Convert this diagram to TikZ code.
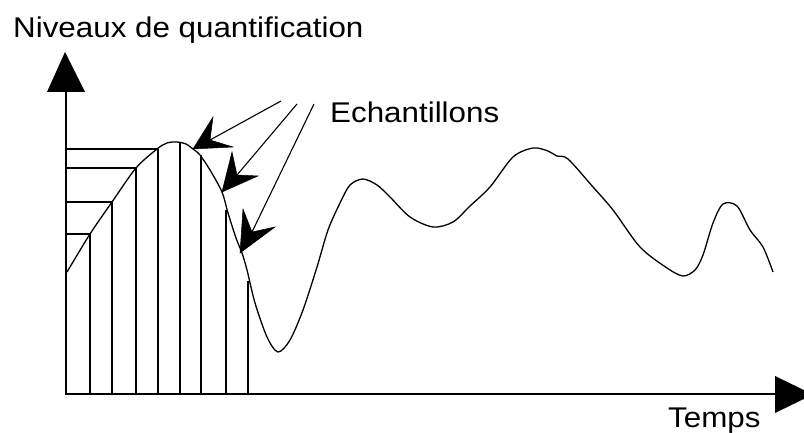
\documentclass[tikz,border=0pt]{standalone}
\usepackage{fontspec}
\newfontfamily\labfont{Liberation Sans}[FakeStretch=1.1]
\begin{document}
\begin{tikzpicture}[x=1pt,y=-1pt,
  axis/.style={line width=2pt,line cap=rect},
  qline/.style={line width=1.8pt},
  signal/.style={line width=1.3pt,line join=round},
  pointer/.style={line width=1.1pt},
  headfill/.style={fill=black,draw=black,line width=0.5pt,line join=miter},
  lab/.style={anchor=base west,inner sep=0pt,font=\labfont\fontsize{28.5}{30}\selectfont}]
\clip (0,0) rectangle (804,433);
\useasboundingbox (0,0) rectangle (804,433);
\fill[white] (0,0) rectangle (804,433);
% axes
\coordinate (O) at (66,394);
\coordinate (ytop) at (66,92);
\coordinate (xend) at (775,394);
\draw[axis] (ytop) -- (O) -- (xend);
\fill (47,92) -- (65,52) -- (85,92) -- cycle;
\fill (775,376) -- (813,394.5) -- (775,413) -- cycle;
% quantisation levels
\draw[qline] (66,149) -- (158,149);
\draw[qline] (66,168) -- (136,168);
\draw[qline] (66,202) -- (112,202);
\draw[qline] (66,234) -- (90,234);
% samples
\foreach \x/\t in {90/234,112/202,136/168,158/149,180/143,201/155,226/210,248/281}
  \draw[qline] (\x,394) -- (\x,\t);
% signal
\draw[signal] plot[smooth,tension=0.5] coordinates {
(67,272) (90,234) (112,202) (136,168) (157,149) (167,143) (177,142) (186,144)
(193,149) (200,155) (210,170) (222,192) (228,213) (236,238) (242,253) (247,270)
(255,303) (267,337) (278,352) (290,340) (303,310) (317,267) (328,230) (340,203)
(350,185) (363,179) (377,185) (390,197) (410,217) (433,227) (453,222) (470,206)
(490,187) (513,157) (533,148) (548,151) (557,156) (568,159) (593,187) (613,210)
(640,247) (667,268) (683,276) (695,270) (703,255) (713,223) (723,204) (737,206)
(750,230) (763,247) (773,272)};
% labels
\node[lab] (niv) at (13,38) {Niveaux de quantification};
\node[lab] (ech) at (330,123) {Echantillons};
\node[lab] (tps) at (668,427) {Temps};
% pointers
\coordinate (s1) at (281,101);
\coordinate (s2) at (297,104);
\coordinate (s3) at (314,104);
\coordinate (n1) at (210,140);
\coordinate (n2) at (237,175);
\coordinate (n3) at (252,232);
\draw[pointer] (s1) -- (n1);
\draw[pointer] (s2) -- (n2);
\draw[pointer] (s3) -- (n3);
\filldraw[headfill] (193,149) -- (213,117) -- (n1) -- (233,147) -- cycle;
\filldraw[headfill] (222,192) -- (232,152) -- (n2) -- (258,176) -- cycle;
\filldraw[headfill] (240,253) -- (243,209) -- (n3) -- (275,227) -- cycle;
\end{tikzpicture}
\end{document}
